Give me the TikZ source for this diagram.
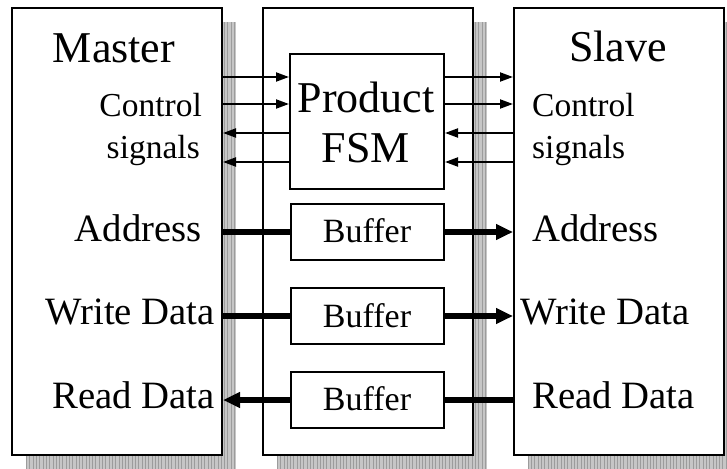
\documentclass[tikz,border=0pt]{standalone}
\usepackage{fontspec}
\setmainfont{Liberation Serif}
\usetikzlibrary{arrows.meta}
\tikzset{
  bigbox/.style={draw=black, line width=2pt, fill=white, inner sep=0pt},
  innerbox/.style={draw=black, line width=2pt, fill=white, inner sep=0pt},
  shadowfill/.style={fill=gray!45},
  shadowgrid/.style={draw=gray!78, line width=0.5pt},
  thinarrow/.style={line width=2pt, -{Triangle[length=13pt,width=9pt]}},
  thick/.style={line width=5.5pt},
  thickarrow/.style={line width=5.5pt, -{Triangle[length=17pt,width=15pt]}},
  fbig/.style={font=\fontsize{44}{50}\selectfont, inner sep=0pt},
  fsig/.style={font=\fontsize{33.5}{38}\selectfont, inner sep=0pt},
  fbus/.style={font=\fontsize{38.7}{44}\selectfont, inner sep=0pt},
  fbuf/.style={font=\fontsize{34}{40}\selectfont, inner sep=0pt},
}
\begin{document}
\begin{tikzpicture}[x=1pt,y=-1pt]
\useasboundingbox (0,0) rectangle (727,468);
% shadows
\foreach \xa/\xb in {26/236, 277/487, 528/738}{
  \fill[shadowfill] (\xa,22) rectangle (\xb,470);
  \begin{scope}
    \clip (\xa,22) rectangle (\xb,470);
    \draw[shadowgrid, step=3.3] (\xa,22) grid (\xb,470);
  \end{scope}
}
% main boxes
\node[bigbox, minimum width=210pt, minimum height=447pt, anchor=north west] (master) at (11,7) {};
\node[bigbox, minimum width=210pt, minimum height=447pt, anchor=north west] (bridge) at (262,7) {};
\node[bigbox, minimum width=210pt, minimum height=447pt, anchor=north west] (slave) at (513,7) {};
% inner boxes
\node[innerbox, minimum width=154pt, minimum height=135pt, anchor=north west] (fsm) at (289,53) {};
\node[innerbox, minimum width=153pt, minimum height=56pt, anchor=north west] (buf1) at (290,203) {};
\node[innerbox, minimum width=153pt, minimum height=56pt, anchor=north west] (buf2) at (290,287) {};
\node[innerbox, minimum width=153pt, minimum height=56pt, anchor=north west] (buf3) at (290,371) {};
% texts
\node[fbig, anchor=base] (tmaster) at (114,63) {Master};
\node[fbig, anchor=base] (tslave) at (618,62) {Slave};
\node[fbig, anchor=base] (tprod) at (366,112) {Product};
\node[fbig, anchor=base] (tfsm) at (366,162) {FSM};
\node[fsig, anchor=base east] (mctl) at (202,117) {Control};
\node[fsig, anchor=base east] (msig) at (200,158) {signals};
\node[fsig, anchor=base west] (sctl) at (532,117) {Control};
\node[fsig, anchor=base west] (ssig) at (532,158) {signals};
\node[fbus, anchor=base east] (maddr) at (202,241) {Address};
\node[fbus, anchor=base east] (mwd) at (215,324) {Write Data};
\node[fbus, anchor=base east] (mrd) at (215,408) {Read Data};
\node[fbus, anchor=base west] (saddr) at (532,241) {Address};
\node[fbus, anchor=base west] (swd) at (520,324) {Write Data};
\node[fbus, anchor=base west] (srd) at (532,408) {Read Data};
\node[fbuf, anchor=base] (tb1) at (367,242) {Buffer};
\node[fbuf, anchor=base] (tb2) at (367,327) {Buffer};
\node[fbuf, anchor=base] (tb3) at (367,410) {Buffer};
% control level coordinates
\coordinate (c1) at (0,77);
\coordinate (c2) at (0,104);
\coordinate (c3) at (0,133);
\coordinate (c4) at (0,162);
% control arrows
\draw[thinarrow] (master.east |- c1) -- (fsm.west |- c1);
\draw[thinarrow] (master.east |- c2) -- (fsm.west |- c2);
\draw[thinarrow] (fsm.west |- c3) -- (master.east |- c3);
\draw[thinarrow] (fsm.west |- c4) -- (master.east |- c4);
\draw[thinarrow] (fsm.east |- c1) -- (slave.west |- c1);
\draw[thinarrow] (fsm.east |- c2) -- (slave.west |- c2);
\draw[thinarrow] (slave.west |- c3) -- (fsm.east |- c3);
\draw[thinarrow] (slave.west |- c4) -- (fsm.east |- c4);
% bus lines
\draw[thick] (master.east |- buf1.west) -- (buf1.west);
\draw[thickarrow] (buf1.east) -- (slave.west |- buf1.east);
\draw[thick] (master.east |- buf2.west) -- (buf2.west);
\draw[thickarrow] (buf2.east) -- (slave.west |- buf2.east);
\draw[thick] (slave.west |- buf3.east) -- (buf3.east);
\draw[thickarrow] (buf3.west) -- (master.east |- buf3.west);
\end{tikzpicture}
\end{document}
